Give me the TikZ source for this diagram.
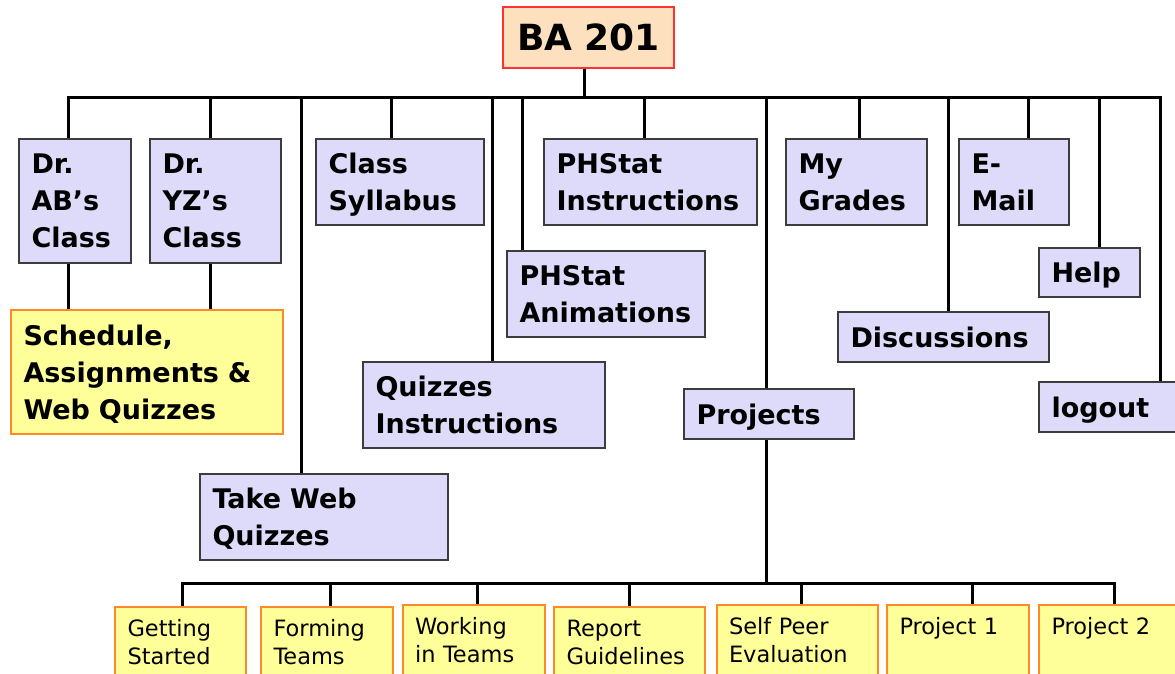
\documentclass[tikz,border=0pt]{standalone}
\usepackage{fontspec}
\setmainfont{DejaVu Sans}
\usetikzlibrary{
    calc,
    positioning
}
\definecolor{lilac}{RGB}{221,219,249}
\definecolor{boxline}{RGB}{60,60,60}
\definecolor{peach}{RGB}{253,224,190}
\definecolor{rootline}{RGB}{255,50,50}
\definecolor{lemon}{RGB}{255,255,153}
\definecolor{tangerine}{RGB}{255,136,40}
\tikzset{
    every picture/.style = {
        line join = miter,
        x = 1pt,
        y = -1pt
    },
    tile/.style 2 args = {
        anchor = north west,
        minimum width = #1pt,
        minimum height = #2pt,
        text width = #1pt-25pt,
        inner xsep = 12.5pt,
        inner ysep = 0pt,
        align = left,
        text depth = 0pt,
        font = \fontsize{27}{37}\selectfont\bfseries
    },
    nlines/.style = {
        text depth = {(#1-1)*37pt}
    },
    topic/.style 2 args = {
        tile = {#1}{#2},
        draw = boxline,
        fill = lilac,
        line width = 2pt
    },
    notebox/.style 2 args = {
        tile = {#1}{#2},
        draw = tangerine,
        fill = lemon,
        line width = 2pt
    },
    leafbox/.style = {
        anchor = north west,
        draw = tangerine,
        fill = lemon,
        line width = 2pt,
        minimum width = #1pt,
        text width = #1pt-25pt,
        inner xsep = 12.5pt,
        inner ysep = 12pt,
        text height = 17pt,
        text depth = 45pt,
        align = left,
        font = \fontsize{22.5}{28}\selectfont
    },
    rootbox/.style = {
        draw = rootline,
        fill = peach,
        line width = 1.5pt,
        minimum width = 171pt,
        minimum height = 61pt,
        inner sep = 0pt,
        text depth = 0pt,
        font = \fontsize{36}{40}\selectfont\bfseries
    },
    wire/.style = {
        line width = 3pt
    }
}

\begin{document}
\begin{tikzpicture}
    \useasboundingbox (0,0) rectangle (1175,673);
    \clip (0,0) rectangle (1175,673);

    \node[rootbox] (ba) at (588.5,37.5) {BA 201};

    \node[topic = {112}{124}, nlines = 3] (ab) at (18,138) {Dr.\\AB’s\\Class};
    \node[topic = {131}{124}, nlines = 3] (yz) at (149,138) {Dr.\\YZ’s\\Class};
    \node[topic = {168}{86}, nlines = 2] (syl) at (315,138) {Class\\Syllabus};
    \node[topic = {213}{86}, nlines = 2] (phi) at (543,138) {PHStat\\Instructions};
    \node[topic = {141}{86}, nlines = 2] (grd) at (785,138) {My\\Grades};
    \node[topic = {110}{86}, nlines = 2] (mail) at (958,138) {E-\\Mail};
    \node[topic = {198}{86}, nlines = 2] (pha) at (506,250) {PHStat\\Animations};
    \node[topic = {101}{49}] (help) at (1038,247) {Help};
    \node[topic = {211}{50}] (disc) at (837,311) {Discussions};
    \node[notebox = {272}{124}, nlines = 3] (sch) at (10,309) {Schedule,\\Assignments \&\\Web Quizzes};
    \node[topic = {242}{86}, nlines = 2] (qi) at (362,361) {Quizzes\\Instructions};
    \node[topic = {170}{50}] (proj) at (683,388) {Projects};
    \node[topic = {150}{50}] (out) at (1038,381) {logout};
    \node[topic = {248}{86}, nlines = 2] (tw) at (199,473) {Take Web\\Quizzes};

    \node[leafbox = 131] (gs) at (114,606) {Getting\\Started};
    \node[leafbox = 132] (ft) at (260,606) {Forming\\Teams};
    \node[leafbox = 142] (wt) at (401.5,604) {Working\\in Teams};
    \node[leafbox = 151] (rg) at (553,606) {Report\\Guidelines};
    \node[leafbox = 161] (sp) at (715.5,604) {Self Peer\\Evaluation};
    \node[leafbox = 142] (p1) at (886,604) {Project 1};
    \node[leafbox = 150] (p2) at (1038,604) {Project 2};

    % top level bus
    \foreach \n/\x in {ab/68, yz/210, tw/301, syl/391, qi/492, pha/522, phi/644,
                       proj/766, grd/859, disc/948, mail/1028, help/1099, out/1160}
        \draw[wire] (584,0 |- ba.south) |- (\x,97) -- (\x,97 |- \n.north);

    \draw[wire] (68,0 |- ab.south) -- (68,0 |- sch.north);
    \draw[wire] (210,0 |- yz.south) -- (210,0 |- sch.north);

    % project pages
    \foreach \n/\x in {gs/182, ft/330, wt/477, rg/629, sp/801, p1/972, p2/1114}
        \draw[wire] (766,0 |- proj.south) |- (\x,583) -- (\x,583 |- \n.north);
\end{tikzpicture}
\end{document}
